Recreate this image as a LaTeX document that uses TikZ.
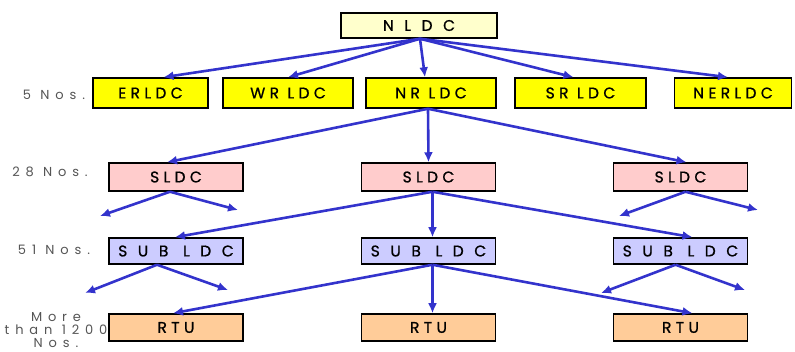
\documentclass[tikz,border=0pt]{standalone}
\usepackage{fontspec}
\setmainfont{Poppins}
\newfontfamily\boxfont[LetterSpace=28,FakeBold=0.8]{Poppins}
\newfontfamily\widefont[LetterSpace=68,FakeBold=0.8]{Poppins}
\newfontfamily\notefont[LetterSpace=45]{Poppins}
\usetikzlibrary{arrows.meta}
\definecolor{arrowblue}{HTML}{3333CC}
\definecolor{topfill}{HTML}{FFFFCC}
\definecolor{regfill}{HTML}{FFFF00}
\definecolor{statefill}{HTML}{FFCCCC}
\definecolor{subfill}{HTML}{CCCCFF}
\definecolor{rtufill}{HTML}{FFCC99}
\definecolor{notegrey}{HTML}{555555}
\tikzset{
  unitbox/.style={draw=black, line width=1.5pt, inner sep=0pt, font=\boxfont\fontsize{15.5}{17}\selectfont},
  topbox/.style={unitbox, fill=topfill, minimum width=156pt, minimum height=25pt, font=\widefont\fontsize{15.5}{17}\selectfont},
  regbox/.style={unitbox, fill=regfill, minimum height=30pt},
  statebox/.style={unitbox, fill=statefill, minimum width=134pt, minimum height=28pt},
  subbox/.style={unitbox, fill=subfill, minimum width=134pt, minimum height=26pt, font=\widefont\fontsize{15.5}{17}\selectfont},
  rtubox/.style={unitbox, fill=rtufill, minimum width=134pt, minimum height=27pt},
  note/.style={text=notegrey, font=\notefont\fontsize{13}{15}\selectfont, align=center, inner sep=0pt},
  link/.style={draw=arrowblue, line width=2.6pt, -{Latex[length=10pt,width=9pt]}},
}
\begin{document}
\begin{tikzpicture}[x=1pt, y=-1pt]
  \useasboundingbox (0,0) rectangle (795,352);

  % national centre
  \node[topbox] (nldc) at (419,25.5) {NLDC};

  % regional centres
  \node[regbox, minimum width=115pt] (erldc) at (150.5,93) {ERLDC};
  \node[regbox, minimum width=130pt] (wrldc) at (288,93) {WR LDC};
  \node[regbox, minimum width=130pt] (nrldc) at (431,93) {NR LDC};
  \node[regbox, minimum width=131pt] (srldc) at (580.5,93) {SR LDC};
  \node[regbox, minimum width=117pt] (nerldc) at (733,93) {NERLDC};

  % state centres
  \node[statebox] (sl) at (176,177) {SLDC};
  \node[statebox] (sm) at (428.5,177) {SLDC};
  \node[statebox] (sr) at (680.5,177) {SLDC};

  % sub-load despatch centres
  \node[subbox] (bl) at (176,251) {SUB LDC};
  \node[subbox] (bm) at (428.5,251) {SUB LDC};
  \node[subbox] (br) at (680.5,251) {SUB LDC};

  % remote terminal units
  \node[rtubox] (rl) at (176,327.5) {RTU};
  \node[rtubox] (rm) at (428.5,327.5) {RTU};
  \node[rtubox] (rr) at (680.5,327.5) {RTU};

  % counts per level
  \node[note] (n5) at (54,95) {5 Nos.};
  \node[note] (n28) at (50,172) {28 Nos.};
  \node[note] (n51) at (54,250) {51 Nos.};
  \node[note] (n1200) at (56,330.5) {More\\[-2pt]than 1200\\[-2pt]Nos.};

  % free ends of the fan-out arrows
  \coordinate (fa1) at (100,216);
  \coordinate (fa2) at (238,210);
  \coordinate (fa3) at (619,216);
  \coordinate (fa4) at (758,210);
  \coordinate (fb1) at (85,293);
  \coordinate (fb2) at (228,290);
  \coordinate (fb3) at (601,293);
  \coordinate (fb4) at (745,290);

  % NLDC to regions
  \draw[link] ([xshift=1pt]nldc.south) -- ([xshift=13pt]erldc.north);
  \draw[link] ([xshift=1pt]nldc.south) -- (wrldc.north);
  \draw[link] ([xshift=1pt]nldc.south) -- ([xshift=-6pt]nrldc.north);
  \draw[link] ([xshift=1pt]nldc.south) -- ([xshift=-7pt]srldc.north);
  \draw[link] ([xshift=1pt]nldc.south) -- ([xshift=-5pt]nerldc.north);

  % NR LDC to states
  \draw[link] ([xshift=-3pt]nrldc.south) -- ([xshift=-9pt]sl.north);
  \draw[link] ([xshift=-3pt]nrldc.south) -- (sm.north);
  \draw[link] ([xshift=-3pt]nrldc.south) -- ([xshift=6pt]sr.north);

  % states to sub-centres
  \draw[link] ([xshift=-6pt]sl.south) -- (fa1);
  \draw[link] ([xshift=-6pt]sl.south) -- (fa2);
  \draw[link] ([xshift=4pt]sm.south) -- ([xshift=-1pt]bl.north);
  \draw[link] ([xshift=4pt]sm.south) -- ([xshift=4pt]bm.north);
  \draw[link] ([xshift=4pt]sm.south) -- ([xshift=12pt]br.north);
  \draw[link] ([xshift=5pt]sr.south) -- (fa3);
  \draw[link] ([xshift=5pt]sr.south) -- (fa4);

  % sub-centres to RTUs
  \draw[link] ([xshift=-19pt]bl.south) -- (fb1);
  \draw[link] ([xshift=-19pt]bl.south) -- (fb2);
  \draw[link] ([xshift=4pt]bm.south) -- ([xshift=-3pt]rl.north);
  \draw[link] ([xshift=4pt]bm.south) -- ([xshift=4pt]rm.north);
  \draw[link] ([xshift=4pt]bm.south) -- ([xshift=12pt]rr.north);
  \draw[link] ([xshift=-5pt]br.south) -- (fb3);
  \draw[link] ([xshift=-5pt]br.south) -- (fb4);
\end{tikzpicture}
\end{document}
